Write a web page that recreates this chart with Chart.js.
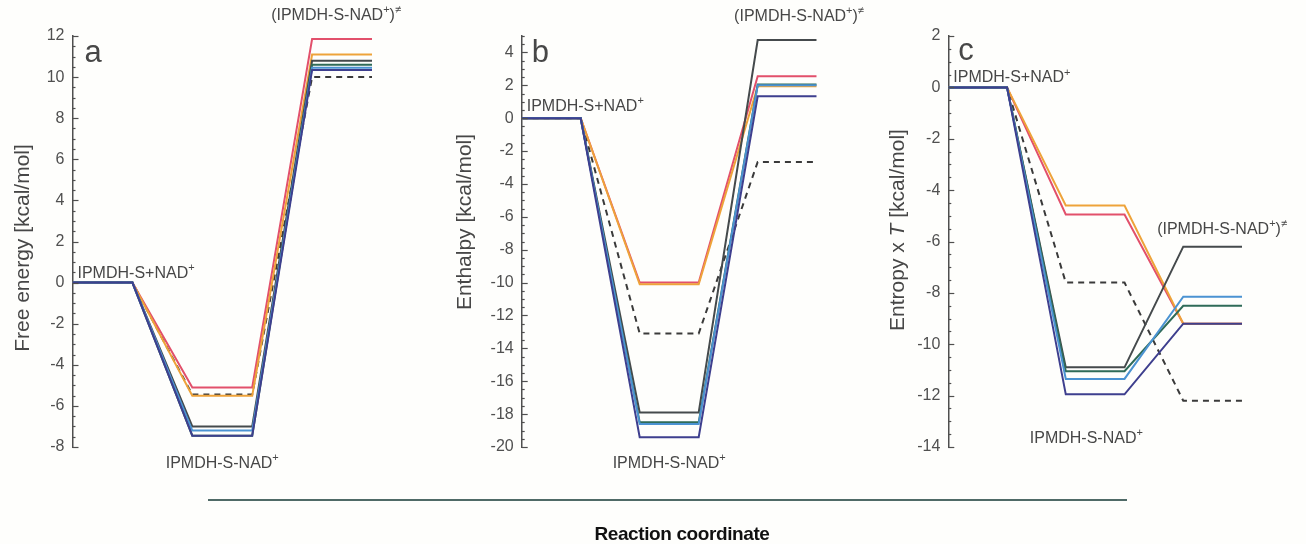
<!DOCTYPE html>
<html><head><meta charset="utf-8">
<script src="https://cdn.jsdelivr.net/npm/chart.js@4.4.1/dist/chart.umd.min.js"></script>
<style>
html,body{margin:0;padding:0;background:#fefefc;}
body{width:1306px;height:544px;overflow:hidden;position:relative;font-family:"Liberation Sans",Arial,sans-serif;}
canvas.pc{position:absolute;top:0;}
#rule{position:absolute;left:208px;top:499px;width:919px;height:2px;background:#4f6a67;}
#xt{position:absolute;left:572px;top:523px;width:220px;text-align:center;font:bold 19px "Liberation Sans",Arial,sans-serif;color:#111;letter-spacing:-0.4px;}
</style></head>
<body>
<canvas id="ca" class="pc" width="440" height="544" style="left:0px"></canvas>
<canvas id="cb" class="pc" width="440" height="544" style="left:440px"></canvas>
<canvas id="cc" class="pc" width="426" height="544" style="left:880px"></canvas>
<div id="rule"></div>
<div id="xt">Reaction coordinate</div>
<script>
// reaction coordinate positions: start, end of reactant level, complex level, transition-state level
const states = [0, 1, 2, 3, 4, 5];

// Free energy (panel a)
const gRed    = [0, 0, -5.1, -5.1, 11.85, 11.85];
const gOrange = [0, 0, -5.5, -5.5, 11.1, 11.1];
const gBlack  = [0, 0, -7.0, -7.0, 10.8, 10.8];
const gGreen  = [0, 0, -7.45, -7.45, 10.6, 10.6];
const gBlue   = [0, 0, -7.2, -7.2, 10.45, 10.45];
const gNavy   = [0, 0, -7.45, -7.45, 10.35, 10.35];
const gDashed = [0, 0, -5.45, -5.45, 10.0, 10.0];

// Enthalpy (panel b)
const hRed    = [0, 0, -10.0, -10.0, 2.55, 2.55];
const hOrange = [0, 0, -10.1, -10.1, 1.95, 1.95];
const hBlack  = [0, 0, -17.9, -17.9, 4.75, 4.75];
const hGreen  = [0, 0, -18.5, -18.5, 2.05, 2.05];
const hBlue   = [0, 0, -18.6, -18.6, 2.0, 2.0];
const hNavy   = [0, 0, -19.4, -19.4, 1.33, 1.33];
const hDashed = [0, 0, -13.1, -13.1, -2.66, -2.66];

// Entropy x T (panel c)
const sRed    = [0, 0, -4.95, -4.95, -9.2, -9.2];
const sOrange = [0, 0, -4.6, -4.6, -9.2, -9.2];
const sBlack  = [0, 0, -10.9, -10.9, -6.2, -6.2];
const sGreen  = [0, 0, -11.05, -11.05, -8.5, -8.5];
const sBlue   = [0, 0, -11.35, -11.35, -8.15, -8.15];
const sNavy   = [0, 0, -11.95, -11.95, -9.2, -9.2];
const sDashed = [0, 0, -7.6, -7.6, -12.2, -12.2];

// axis ranges
const yRangeA = [-8, 12];
const yRangeB = [-20, 5];
const yRangeC = [-14, 2];

const AX = '#4f4f4f';
const TXT = '#474747';
const FAM = '"Liberation Sans", Arial, sans-serif';

const COLORS = {navy:'#3e3f8e', blue:'#4b93d2', green:'#2f6b58', black:'#454a4c', orange:'#eea33a', red:'#e2506b', dashed:'#3a3a3a'};

function pts(arr){ return arr.map((v,i)=>({x: states[i], y: v})); }

function makeSets(red, orange, black, green, blue, navy, dashed){
  const mk = (d, c, dash) => ({data: pts(d), borderColor: c, borderWidth: 2, borderDash: dash || [], pointRadius: 0, tension: 0, fill: false});
  return [
    mk(navy, COLORS.navy), mk(blue, COLORS.blue), mk(green, COLORS.green),
    mk(black, COLORS.black), mk(orange, COLORS.orange), mk(red, COLORS.red),
    mk(dashed, COLORS.dashed, [6,5])
  ];
}

function drawParts(ctx, parts, x, y, align, size){
  const mainF = size + 'px ' + FAM, supF = Math.round(size*0.68) + 'px ' + FAM;
  let w = 0;
  parts.forEach(p => { ctx.font = p.sup ? supF : (p.it ? 'italic ' + mainF : mainF); w += ctx.measureText(p.t).width; });
  let cx = align === 'center' ? x - w/2 : x;
  ctx.textAlign = 'left'; ctx.textBaseline = 'alphabetic';
  parts.forEach(p => {
    ctx.font = p.sup ? supF : (p.it ? 'italic ' + mainF : mainF);
    ctx.fillText(p.t, cx, p.sup ? y - size*0.42 : y);
    cx += ctx.measureText(p.t).width;
  });
}

function makeChart(id, sets, range, cfg){
  const deco = {
    id: 'deco' + id,
    afterDraw(chart){
      const ctx = chart.ctx, ys = chart.scales.y, xs = chart.scales.x, a = chart.chartArea;
      ctx.save();
      // inward ticks
      ctx.strokeStyle = AX; ctx.lineWidth = 1.2;
      ys.ticks.forEach(t => {
        const py = Math.round(ys.getPixelForValue(t.value)) + 0.5;
        const major = Math.abs(t.value % 2) < 1e-9;
        ctx.beginPath(); ctx.moveTo(a.left, py); ctx.lineTo(a.left + (major ? 6 : 3), py); ctx.stroke();
      });
      ctx.fillStyle = TXT;
      // panel letter
      ctx.font = '31px ' + FAM; ctx.textAlign = 'left'; ctx.textBaseline = 'alphabetic';
      ctx.fillText(cfg.letter, a.left + cfg.letterDx, cfg.letterY);
      // state labels
      cfg.labels.forEach(l => {
        const px = l.x === null ? a.left + 5 : xs.getPixelForValue(l.x);
        const py = ys.getPixelForValue(l.y) + (l.dy || 0);
        drawParts(ctx, l.parts, px, py, l.align, 16);
      });
      // y title (rotated)
      ctx.save();
      ctx.translate(cfg.titleX, cfg.titleY);
      ctx.rotate(-Math.PI/2);
      ctx.fillStyle = TXT;
      drawParts(ctx, cfg.title, 0, 7, 'center', 21);
      ctx.restore();
      ctx.restore();
    }
  };
  return new Chart(document.getElementById(id), {
    type: 'line',
    data: {datasets: sets},
    options: {
      responsive: false, animation: false, devicePixelRatio: 1,
      layout: {padding: {left: 0, right: cfg.padRight, top: 36, bottom: 97}},
      plugins: {legend: {display: false}, tooltip: {enabled: false}},
      scales: {
        x: {type: 'linear', display: false, min: 0, max: 5},
        y: {
          min: range[0], max: range[1],
          afterFit: s => { s.width = cfg.axisLeft; },
          border: {display: true, color: AX, width: 1.5},
          grid: {display: false, drawTicks: false},
          ticks: {stepSize: 0.5, autoSkip: false, padding: 8, color: '#505050', font: {size: 16, family: FAM},
                  callback: v => (Math.abs(v % 2) < 1e-9 ? String(v) : '')}
        }
      }
    },
    plugins: [deco]
  });
}

const sPlus = [{t:'IPMDH-S+NAD'},{t:'+',sup:true}];
const sCompl = [{t:'IPMDH-S-NAD'},{t:'+',sup:true}];
const sTS = [{t:'(IPMDH-S-NAD'},{t:'+',sup:true},{t:')'},{t:'≠',sup:true}];

makeChart('ca', makeSets(gRed,gOrange,gBlack,gGreen,gBlue,gNavy,gDashed), yRangeA, {
  axisLeft: 72.5, padRight: 68, letter: 'a', letterDx: 12, letterY: 62,
  titleX: 22, titleY: 248,
  title: [{t:'Free energy [kcal/mol]'}],
  labels: [
    {parts: sPlus, x: null, y: 0, dy: -5, align: 'left'},
    {parts: sCompl, x: 2.5, y: -8, dy: 21, align: 'center'},
    {parts: sTS, x: 4.4, y: 12, dy: -16, align: 'center'}
  ]
});

makeChart('cb', makeSets(hRed,hOrange,hBlack,hGreen,hBlue,hNavy,hDashed), yRangeB, {
  axisLeft: 81.7, padRight: 63.3, letter: 'b', letterDx: 10, letterY: 62,
  titleX: 24, titleY: 222,
  title: [{t:'Enthalpy [kcal/mol]'}],
  labels: [
    {parts: sPlus, x: null, y: 0, dy: -7, align: 'left'},
    {parts: sCompl, x: 2.5, y: -20, dy: 21, align: 'center'},
    {parts: sTS, x: 4.7, y: 5, dy: -15, align: 'center'}
  ]
});

makeChart('cc', makeSets(sRed,sOrange,sBlack,sGreen,sBlue,sNavy,sDashed), yRangeC, {
  axisLeft: 68.3, padRight: 64, letter: 'c', letterDx: 10, letterY: 60,
  titleX: 17, titleY: 230,
  title: [{t:'Entropy x '},{t:'T',it:true},{t:' [kcal/mol]'}],
  labels: [
    {parts: sPlus, x: null, y: 0, dy: -5, align: 'left'},
    {parts: sCompl, x: 2.35, y: -13.6, dy: 6, align: 'center'},
    {parts: sTS, x: 4.66, y: -5.46, dy: 6, align: 'center'}
  ]
});
</script>
</body></html>
